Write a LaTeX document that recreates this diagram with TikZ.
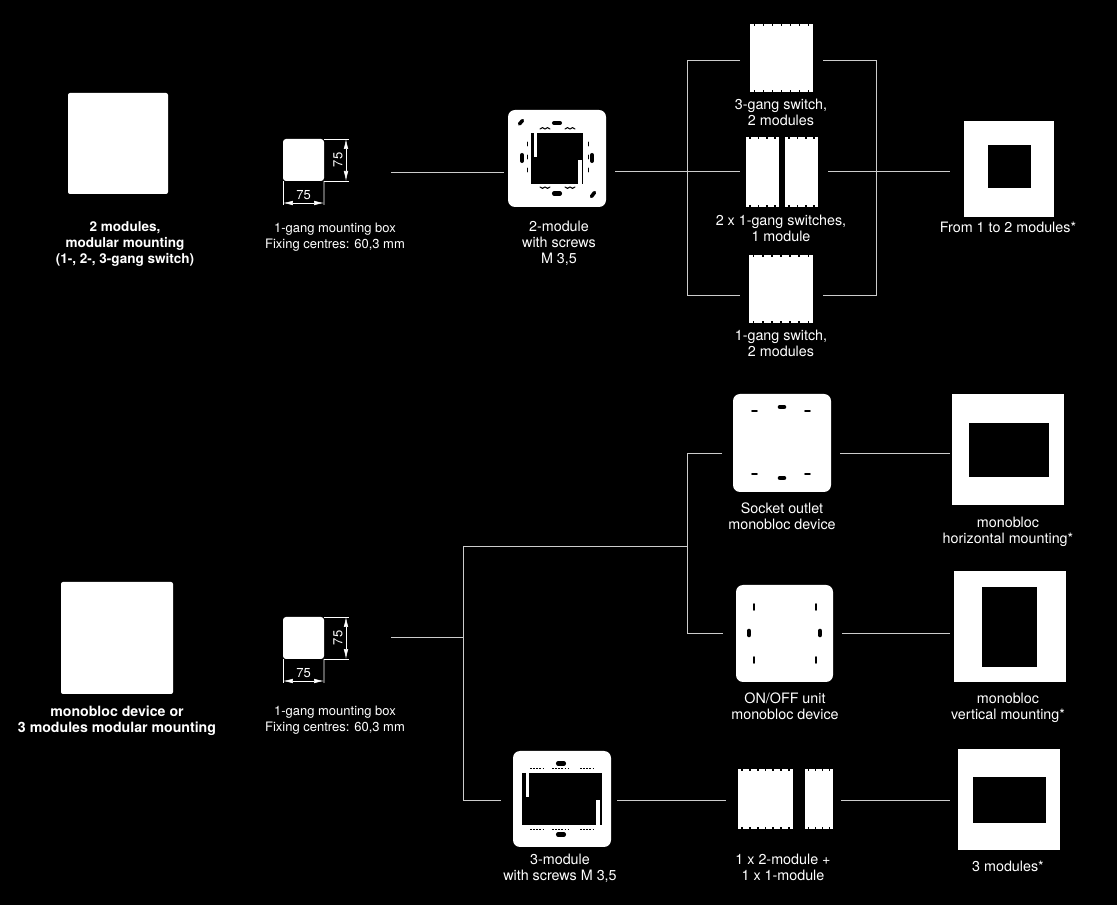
\documentclass[tikz,border=0pt]{standalone}
\usepackage{fontspec}
\setmainfont{TeX Gyre Heros}
\usetikzlibrary{calc,arrows.meta}
\newcommand{\teeth}[2]{% teeth along top and bottom of a module
\foreach \i in {1,...,#2} {
\draw[tooth] ($(#1.north west)!{(\i-0.5)/#2}!(#1.north east)$)--++(0,2);
\draw[tooth] ($(#1.south west)!{(\i-0.5)/#2}!(#1.south east)$)--++(0,-2);
}}
\newcommand{\humps}[3]{% two small humps on a plate
\draw[hole,line width=0.6pt] (#1-5,#2) to[bend left=#3] (#1,#2) to[bend left=#3] (#1+5,#2);
}
\tikzset{
sz/.style 2 args={minimum width=#1*0.02cm,minimum height=#2*0.02cm},
solid white/.style={fill=white,inner sep=0pt,outer sep=0pt},
wall/.style={solid white,rounded corners=0.4mm},
mbox/.style={solid white,rounded corners=0.6mm},
plate/.style={solid white,rounded corners=1.4mm},
frame/.style={solid white},
modul/.style={solid white},
opening/.style={fill=black,inner sep=0pt,outer sep=0pt},
hole/.style={draw=black,line cap=round,line width=0.7pt},
tooth/.style={draw=black,line width=1pt},
conn/.style={draw=white!80!black,line width=0.42pt},
dim/.style={draw=white,line width=0.3pt},
dimarrow/.style={draw=white,line width=0.3pt,{Latex[length=2mm,width=0.9mm]}-{Latex[length=2mm,width=0.9mm]}},
lbl/.style={text=white,align=center,inner sep=0pt,font=\fontsize{8.15}{9.07}\selectfont},
lbls/.style={lbl,font=\fontsize{7.4}{9.07}\selectfont},
lblb/.style={lbl,font=\fontsize{7.7}{9.07}\selectfont\bfseries},
lblc/.style={lbl,font=\fontsize{8.05}{9.07}\selectfont\bfseries},
}
\begin{document}
\begin{tikzpicture}[x=0.02cm,y=-0.02cm]
\fill[black] (0,0) rectangle (1117,905);
\useasboundingbox (0,0) rectangle (1117,905);
% upper row
\node[wall,sz={100}{101}] (WA) at (118,143.5) {};
\node[lblb] (TWA) at (125,244) {2 modules,\\modular mounting\\(1-, 2-, 3-gang switch)};
\node[mbox,sz={41}{42}] (BA) at (303.5,160) {};
\node[lbls] (TBA) at (335,237) {1-gang mounting box\\Fixing centres: 60,3 mm};
\coordinate (BAr) at (349,139);
\coordinate (BAs) at (349,181);
\coordinate (BAl) at (283,205);
\coordinate (BAm) at (324,205);
\draw[dim] (BA.north east)--(BAr);
\draw[dim] (BA.south east)--(BAs);
\draw[dim] (BA.south west)--(BAl);
\draw[dim] (BA.south east)--(BAm);
\draw[dimarrow] (346,139)--(346,181);
\draw[dimarrow] (283,203)--(324,203);
\node[lbls,rotate=90] (DAv) at (338,160) {75};
\node[lbls] (DAh) at (303.5,195) {75};
% plate with screws
\node[plate,sz={98}{97}] (PA) at (557,158.5) {};
\node[opening,sz={52}{51}] (OA) at (557,158.5) {};
\fill[white] (533.5,133) rectangle (537,157);
\fill[white] (578,160) rectangle (582,184);
\draw[hole,line width=2.3pt] (554,123)--(560,123);
\draw[hole,line width=2.3pt] (554,193.5)--(560,193.5);
\draw[hole,line width=2.3pt] (522,155)--(522,161);
\draw[hole,line width=2.3pt] (592,155)--(592,161);
\draw[hole,line width=2pt] (519.5,124)--(522.5,120.5);
\draw[hole,line width=2pt] (591.5,196.5)--(594.5,192.5);
\foreach \x in {545,570} {\humps{\x}{129}{70} \humps{\x}{187}{-70}}
\foreach \x in {527,588} {\foreach \y in {144,157,170} \draw[hole,line width=0.5pt] (\x,\y-2)--(\x,\y+2);}
\node[lbl] (TPA) at (559,243.5) {2-module\\with screws\\M 3,5};
% switches
\node[modul,sz={63}{68}] (SA) at (781.5,58) {};
\node[lbl] (TSA) at (781,112) {3-gang switch,\\2 modules};
\node[modul,sz={33}{70}] (SB) at (762.5,172) {};
\node[modul,sz={33}{70}] (SC) at (801.5,172) {};
\node[lbl] (TSB) at (781,228) {2 x 1-gang switches,\\1 module};
\node[modul,sz={64}{68}] (SD) at (781,289) {};
\node[lbl] (TSD) at (781,343) {1-gang switch,\\2 modules};
\teeth{SA}{7}
\teeth{SB}{4}
\teeth{SC}{4}
\teeth{SD}{7}
% frame
\node[frame,sz={90}{96}] (FA) at (1009,169) {};
\node[opening,sz={43}{43}] (HA) at (1009.5,166.5) {};
\node[lbl] (TFA) at (1008,227) {From 1 to 2 modules*};
% connectors of upper row
\coordinate (a1) at (391,172);
\coordinate (a2) at (504,172);
\coordinate (a3) at (615,171);
\coordinate (a4) at (740,171);
\coordinate (a5) at (828,171);
\coordinate (a6) at (950,171);
\coordinate (b1) at (740,60);
\coordinate (b2) at (687,60);
\coordinate (b3) at (687,295);
\coordinate (b4) at (740,295);
\coordinate (c1) at (823,60);
\coordinate (c2) at (876,60);
\coordinate (c3) at (876,295);
\coordinate (c4) at (823,295);
\draw[conn] (a1)--(a2);
\draw[conn] (a3)--(a4);
\draw[conn] (a5)--(a6);
\draw[conn] (b1)--(b2)--(b3)--(b4);
\draw[conn] (c1)--(c2)--(c3)--(c4);
% lower row
\node[wall,sz={112}{112}] (WB) at (117,638) {};
\node[lblc] (TWB) at (117,720.7) {monobloc device or\\3 modules modular mounting};
\node[mbox,sz={41}{42}] (BB) at (303.5,638) {};
\node[lbls] (TBB) at (335,720.5) {1-gang mounting box\\Fixing centres: 60,3 mm};
\coordinate (BBr) at (349,617);
\coordinate (BBs) at (349,659);
\coordinate (BBl) at (283,683);
\coordinate (BBm) at (324,683);
\draw[dim] (BB.north east)--(BBr);
\draw[dim] (BB.south east)--(BBs);
\draw[dim] (BB.south west)--(BBl);
\draw[dim] (BB.south east)--(BBm);
\draw[dimarrow] (346,617)--(346,659);
\draw[dimarrow] (283,681)--(324,681);
\node[lbls,rotate=90] (DBv) at (338,638) {75};
\node[lbls] (DBh) at (303.5,673) {75};
% socket outlet
\node[plate,sz={98}{98}] (PB) at (782,443) {};
\draw[hole,line width=2.6pt] (780,407)--(784,407);
\draw[hole,line width=2.6pt] (780,478)--(784,478);
\foreach \x in {753,806} {
\draw[hole,line width=1pt] (\x-1,411)--(\x+4,411);
\draw[hole,line width=1pt] (\x-1,474)--(\x+4,474);
}
\node[lbl] (TPB) at (782,516) {Socket outlet\\monobloc device};
% on/off unit
\node[plate,sz={97}{97}] (PC) at (784.5,633.5) {};
\draw[hole,line width=2.6pt] (749,631)--(749,635);
\draw[hole,line width=2.6pt] (820,631)--(820,635);
\foreach \x in {754,816} {
\draw[hole,line width=1pt] (\x,604)--(\x,610);
\draw[hole,line width=1pt] (\x,657)--(\x,663);
}
\node[lbl] (TPC) at (785,706) {ON/OFF unit\\monobloc device};
% 3-module plate
\node[plate,sz={98}{96}] (PD) at (562,799) {};
\node[opening,sz={80}{52}] (OD) at (562,799) {};
\fill[white] (526,773) rectangle (529,797);
\fill[white] (596,800) rectangle (600,825);
\draw[hole,line width=2.3pt] (558,763.5)--(564,763.5);
\draw[hole,line width=2.3pt] (558,834.5)--(564,834.5);
\foreach \y in {768,829} {\foreach \x/\w in {530/545,552/568,580/595} \draw[hole,line cap=butt,line width=0.5pt,dash pattern=on 1pt off 0.8pt] (\x,\y)--(\w,\y);}
\node[lbl] (TPD) at (560,868) {3-module\\with screws M 3,5};
\node[modul,sz={55}{60}] (SE) at (765.5,799) {};
\node[modul,sz={28}{60}] (SF) at (819,799) {};
\teeth{SE}{7}
\teeth{SF}{4}
\node[lbl] (TSE) at (783,867) {1 x 2-module +\\1 x 1-module};
% frames
\node[frame,sz={112}{111}] (FB) at (1008,449.5) {};
\node[opening,sz={80}{54}] (HB) at (1009,450) {};
\node[lbl] (TFB) at (1008,532) {monobloc\\horizontal mounting*};
\node[frame,sz={112}{111}] (FC) at (1010,626.5) {};
\node[opening,sz={55}{80}] (HC) at (1009.5,627) {};
\node[lbl] (TFC) at (1008,708) {monobloc\\vertical mounting*};
\node[frame,sz={102}{101}] (FD) at (1009,799.5) {};
\node[opening,sz={73}{46}] (HD) at (1009.5,800) {};
\node[lbl] (TFD) at (1008,866) {3 modules*};
% connectors of lower row
\coordinate (d1) at (391,637);
\coordinate (d2) at (463,637);
\coordinate (d3) at (463,546);
\coordinate (d4) at (463,800);
\coordinate (d5) at (501,800);
\coordinate (d6) at (687,546);
\coordinate (e1) at (687,453);
\coordinate (e2) at (722,453);
\coordinate (e3) at (687,633);
\coordinate (e4) at (723,633);
\coordinate (f1) at (840,453);
\coordinate (f2) at (950,453);
\coordinate (f3) at (842,633);
\coordinate (f4) at (950,633);
\coordinate (g1) at (617,800);
\coordinate (g2) at (726,800);
\coordinate (g3) at (841,800);
\coordinate (g4) at (950,800);
\draw[conn] (d1)--(d2);
\draw[conn] (d3)--(d4)--(d5);
\draw[conn] (d3)--(d6);
\draw[conn] (e2)--(e1)--(e3)--(e4);
\draw[conn] (f1)--(f2);
\draw[conn] (f3)--(f4);
\draw[conn] (g1)--(g2);
\draw[conn] (g3)--(g4);
\end{tikzpicture}
\end{document}
